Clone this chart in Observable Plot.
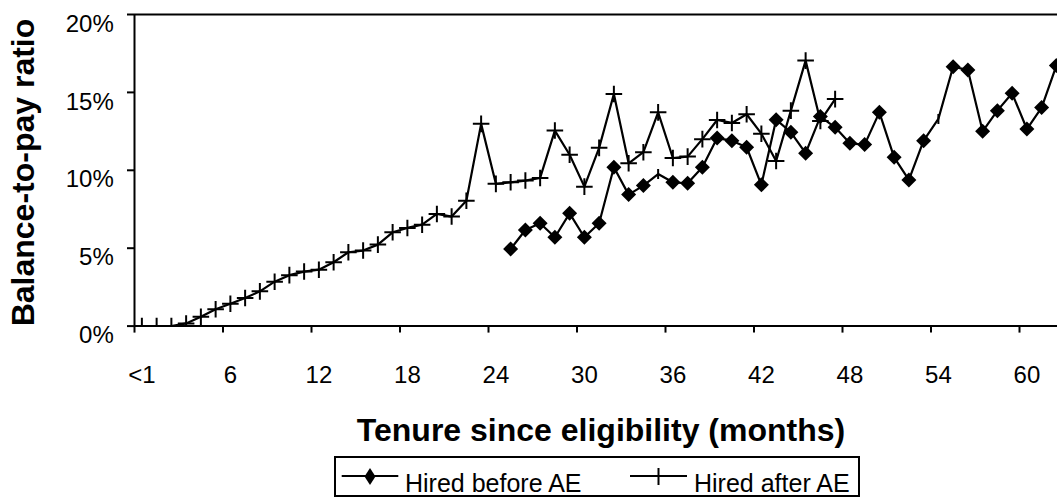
<!DOCTYPE html>
<html>
<head>
<meta charset="utf-8">
<script src="https://cdn.jsdelivr.net/npm/d3@7"></script>
<script src="https://cdn.jsdelivr.net/npm/@observablehq/plot@0.6"></script>
<style>
  html, body { margin: 0; padding: 0; background: #fff; overflow: hidden; }
  #chart { width: 1057px; height: 498px; }
</style>
</head>
<body>
<div id="chart"></div>
<script>
// ---- data ----
const tickMonths = [0, 6, 12, 18, 24, 30, 36, 42, 48, 54, 60];
const tickLabels = ["<1", "6", "12", "18", "24", "30", "36", "42", "48", "54", "60"];
const yTicks = [0, 5, 10, 15, 20];
const seriesNames = ["Hired before AE", "Hired after AE"];
const xTitle = "Tenure since eligibility (months)";
const yTitle = "Balance-to-pay ratio";

// Hired after AE: months 0 .. 47 (percent)
const hiredAfterStart = 0;
const hiredAfter = [0, 0, 0, 0.17, 0.6, 1.08, 1.44, 1.8, 2.23, 2.85,
  3.27, 3.5, 3.62, 4.1, 4.74, 4.85, 5.23, 6.02, 6.3, 6.51,
  7.2, 7.03, 8.05, 12.98, 9.13, 9.23, 9.34, 9.51, 12.55, 11.0,
  8.95, 11.44, 14.9, 10.45, 11.16, 13.72, 10.79, 10.88, 12.0, 13.23,
  13.04, 13.6, 12.35, 10.6, 13.83, 17.04, 13.17, 14.57];

// Hired before AE: months 25 .. 62 (percent)
const hiredBeforeStart = 25;
const hiredBefore = [4.95, 6.17, 6.6, 5.7, 7.24, 5.7, 6.6, 10.19, 8.44, 9.02,
  9.76, 9.23, 9.17, 10.19, 12.07, 11.9, 11.48, 9.07, 13.25, 12.44,
  11.1, 13.45, 12.76, 11.73, 11.65, 13.72, 10.83, 9.38, 11.9, 13.3,
  16.65, 16.44, 12.5, 13.83, 14.94, 12.65, 14.03, 16.72];
// points of the "before" series drawn without a diamond in the original
const hiredBeforeUnmarked = [35, 54];

// ---- build tables ----
const afterRows = hiredAfter.map((v, i) => ({month: hiredAfterStart + i, value: v}));
const beforeRows = hiredBefore.map((v, i) => ({month: hiredBeforeStart + i, value: v}));

// ---- layout ----
const W = 1057, H = 498;
const plotLeft = 134, plotTop = 14, plotBottom = 325.6;
const catWidth = 14.75, nCats = 64;
const font = '"Liberation Sans", Arial, Helvetica, sans-serif';

const diamond = {draw(ctx, size) { const h = Math.sqrt(size / Math.PI); ctx.moveTo(0, -h); ctx.lineTo(h, 0); ctx.lineTo(0, h); ctx.lineTo(-h, 0); ctx.closePath(); }};
const dash = {draw(ctx, size) { const h = Math.sqrt(size / Math.PI); ctx.moveTo(0, -h); ctx.lineTo(0, h); }};

const svg = Plot.plot({
  width: W, height: H,
  marginLeft: plotLeft, marginRight: 0, marginTop: plotTop, marginBottom: H - plotBottom,
  style: {fontFamily: font, color: "#000", background: "#fff", overflow: "visible"},
  x: {type: "linear", domain: [-0.5, nCats - 0.5], range: [plotLeft, plotLeft + nCats * catWidth], label: null},
  y: {domain: [0, 20], label: null},
  marks: [
    Plot.ruleY([0, 20], {stroke: "#000", strokeWidth: 2}),
    Plot.ruleX([-0.5], {stroke: "#000", strokeWidth: 2}),
    Plot.axisY({ticks: yTicks, tickSize: 7, tickFormat: () => "", stroke: "#000", strokeWidth: 2, label: null}),
    Plot.axisY({ticks: yTicks, tickSize: 0, tickPadding: 20.7, tickFormat: d => d + "%", fontSize: 24, dy: 9.5, fill: "#000", label: null}),
    Plot.axisX({ticks: d3.range(-0.5, 60, 6), tickSize: 7, tickFormat: () => "", stroke: "#000", strokeWidth: 2, label: null}),
    Plot.axisX({ticks: tickMonths, tickSize: 0, tickPadding: 39.4, tickFormat: d => tickLabels[tickMonths.indexOf(d)], fontSize: 24, fill: "#000", label: null}),
    Plot.line(beforeRows, {x: "month", y: "value", stroke: "#000", strokeWidth: 2.2, clip: true}),
    Plot.line(afterRows, {x: "month", y: "value", stroke: "#000", strokeWidth: 2.2, clip: true}),
    Plot.dot(beforeRows.filter(d => !hiredBeforeUnmarked.includes(d.month)), {x: "month", y: "value", symbol: diamond, r: 7.5, fill: "#000", stroke: "none", clip: true}),
    Plot.dot(beforeRows.filter(d => hiredBeforeUnmarked.includes(d.month)), {x: "month", y: "value", symbol: dash, r: 5, fill: "none", stroke: "#000", strokeWidth: 2, clip: true}),
    Plot.dot(afterRows, {x: "month", y: "value", symbol: "plus", r: 5.4, fill: "none", stroke: "#000", strokeWidth: 2, clip: true}),
    Plot.text([xTitle], {frameAnchor: "bottom", textAnchor: "middle", dx: 5, dy: 104.2, fontWeight: "bold", fontSize: 32, lineAnchor: "middle", fill: "#000"}),
    Plot.text([yTitle], {frameAnchor: "left", textAnchor: "middle", rotate: -90, dx: 23.1 - plotLeft, dy: 2.2, fontWeight: "bold", fontSize: 32, lineAnchor: "middle", fill: "#000"})
  ]
});

// ---- legend (below the plot area) ----
const lg = d3.select(svg).append("g").attr("font-family", font).attr("font-size", 25).attr("fill", "#000").attr("text-anchor", "start");
lg.append("rect").attr("x", 335).attr("y", 457).attr("width", 524).attr("height", 39)
  .attr("fill", "none").attr("stroke", "#000").attr("stroke-width", 2);
// item 1: Hired before AE
lg.append("line").attr("x1", 341.7).attr("x2", 398.3).attr("y1", 476).attr("y2", 476).attr("stroke", "#000").attr("stroke-width", 2.2);
lg.append("path").attr("d", "M370,468L375.5,476.5L370,485L364.5,476.5Z").attr("fill", "#000");
lg.append("text").attr("x", 405).attr("y", 492).text(seriesNames[0]);
// item 2: Hired after AE
lg.append("line").attr("x1", 630).attr("x2", 687).attr("y1", 476).attr("y2", 476).attr("stroke", "#000").attr("stroke-width", 2.2);
lg.append("line").attr("x1", 658.5).attr("x2", 658.5).attr("y1", 468).attr("y2", 485).attr("stroke", "#000").attr("stroke-width", 2);
lg.append("text").attr("x", 694).attr("y", 492).text(seriesNames[1]);

document.getElementById("chart").appendChild(svg);
</script>
</body>
</html>
